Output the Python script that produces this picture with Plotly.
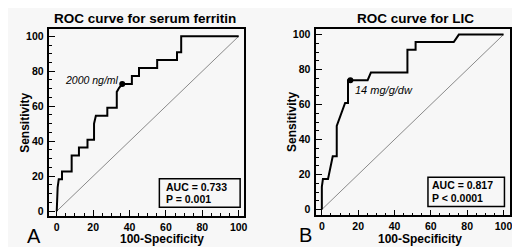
import plotly.graph_objects as go

# ---- data ----
ferritin_fpr = [0, 0.5, 1.1, 2.9, 2.9, 8.2, 8.2, 12.2, 12.2, 16.9, 16.9, 20.5, 20.5, 21.5, 27.8, 27.8,
                33.0, 33.0, 34.3, 36.0, 41.3, 41.3, 45.2, 45.2, 55.2, 55.2, 66.1, 66.1, 68.4, 68.4, 100]
ferritin_tpr = [0, 13.6, 18.2, 18.2, 22.7, 22.7, 31.8, 31.8, 36.4, 36.4, 40.9, 40.9, 50.0, 54.5, 54.5, 59.1,
                59.1, 68.2, 70.5, 72.7, 72.7, 77.3, 77.3, 81.8, 81.8, 86.4, 86.4, 90.9, 90.9, 100, 100]
lic_fpr = [0, 0, 0.6, 3.4, 6.0, 8.2, 8.2, 9.7, 12.8, 14.4, 14.4, 15.7, 25.2, 27.0, 47.1, 47.1,
           51.6, 51.6, 72.6, 75.4, 100]
lic_tpr = [0, 13.0, 17.4, 17.4, 30.4, 30.4, 47.8, 52.2, 60.9, 60.9, 73.9, 73.9, 73.9, 78.3, 78.3, 91.3,
           91.3, 95.7, 95.7, 100, 100]
cutoff_ferritin = (36.0, 72.7)
cutoff_lic = (15.7, 73.9)
ref_line = [0, 100]
panel_titles = ["ROC curve for serum ferritin", "ROC curve for LIC"]
cutoff_labels = ["2000 ng/ml", "14 mg/g/dw"]
auc_texts = [("AUC = 0.733", "P = 0.001"), ("AUC = 0.817", "P < 0.0001")]
panel_letters = ["A", "B"]
tick_vals = [0, 20, 40, 60, 80, 100]

W, H = 520, 247
FONT = "Arial, Liberation Sans, sans-serif"

fig = go.Figure()

def px(x):
    return x / W

def py(y):
    return 1 - y / H

panels = [
    dict(xa="x", ya="y", xdom=[px(41.7), px(237.7)], ydom=[py(209), py(21)],
         xr=[-4.0, 103.1], yr=[-2.85, 104.2], fpr=ferritin_fpr, tpr=ferritin_tpr, cut=cutoff_ferritin),
    dict(xa="x2", ya="y2", xdom=[px(310), px(505)], ydom=[py(208.3), py(20.7)],
         xr=[-3.1, 103.6], yr=[-3.4, 103.4], fpr=lic_fpr, tpr=lic_tpr, cut=cutoff_lic),
]

for i, p in enumerate(panels):
    fig.add_trace(go.Scatter(x=ref_line, y=ref_line, mode="lines",
                             line=dict(color="#8a8a8a", width=1), xaxis=p["xa"], yaxis=p["ya"],
                             showlegend=False, hoverinfo="skip"))
    fig.add_trace(go.Scatter(x=p["fpr"], y=p["tpr"], mode="lines",
                             line=dict(color="black", width=2), xaxis=p["xa"], yaxis=p["ya"],
                             showlegend=False))
    fig.add_trace(go.Scatter(x=[p["cut"][0]], y=[p["cut"][1]], mode="markers",
                             marker=dict(color="black", size=6), xaxis=p["xa"], yaxis=p["ya"],
                             showlegend=False))
    axcommon = dict(showline=True, mirror=True, linecolor="black", linewidth=1.5,
                    ticks="inside", ticklen=6, tickwidth=1.2, tickcolor="black",
                    tickvals=tick_vals, showgrid=False, zeroline=False,
                    tickfont=dict(family=FONT, size=10.5, color="black", weight="bold"),
                    minor=dict(ticks="inside", ticklen=3, dtick=5, tickcolor="black", tickwidth=1))
    xkey = "xaxis" if i == 0 else "xaxis2"
    ykey = "yaxis" if i == 0 else "yaxis2"
    fig.update_layout(**{
        xkey: dict(domain=p["xdom"], range=p["xr"], anchor=p["ya"], **axcommon),
        ykey: dict(domain=p["ydom"], range=p["yr"], anchor=p["xa"], ticklabelstandoff=2, **axcommon),
    })

# AUC boxes
boxes = [dict(x0=56.4, x1=100.8, y0=2.3, y1=18.6, xref="x", yref="y"),
         dict(x0=58.4, x1=100.5, y0=1.7, y1=18.4, xref="x2", yref="y2")]
for b in boxes:
    fig.add_shape(type="rect", line=dict(color="black", width=1.5), fillcolor="rgba(0,0,0,0)", **b)

ann = []
def txt(x, y, s, size, bold=True, italic=False, xanchor="center", angle=0):
    ann.append(dict(x=px(x), y=py(y), xref="paper", yref="paper", text=s, showarrow=False,
                    xanchor=xanchor, yanchor="middle", textangle=angle, borderpad=0,
                    font=dict(family=FONT, size=size, color="black",
                              weight="bold" if bold else "normal",
                              style="italic" if italic else "normal")))

txt(137.7, 11, panel_titles[0], 13.5)
txt(410, 11, panel_titles[1], 13.5)
txt(154.5, 232, "100-Specificity", 12)
txt(414, 232, "100-Specificity", 12)
txt(17.7, 115.7, "Sensitivity", 12, angle=-90)
txt(285, 114, "Sensitivity", 12, angle=-90)
txt(26, 229, panel_letters[0], 20, bold=False)
txt(299.5, 228, panel_letters[1], 20, bold=False)
txt(56, 72, cutoff_labels[0], 10.5, bold=False, italic=True, xanchor="left")
txt(347.7, 82, cutoff_labels[1], 11, bold=False, italic=True, xanchor="left")
txt(157.7, 180, auc_texts[0][0], 10.5, xanchor="left")
txt(157.7, 192, auc_texts[0][1], 10.5, xanchor="left")
txt(425.7, 178, auc_texts[1][0], 10.5, xanchor="left")
txt(425.7, 191, auc_texts[1][1], 10.5, xanchor="left")

fig.update_layout(annotations=ann, width=W, height=H,
                  margin=dict(l=0, r=0, t=0, b=0),
                  paper_bgcolor="#f7f7f7", plot_bgcolor="rgba(0,0,0,0)",
                  showlegend=False)

fig.write_html("out.html", config={"displayModeBar": False})
